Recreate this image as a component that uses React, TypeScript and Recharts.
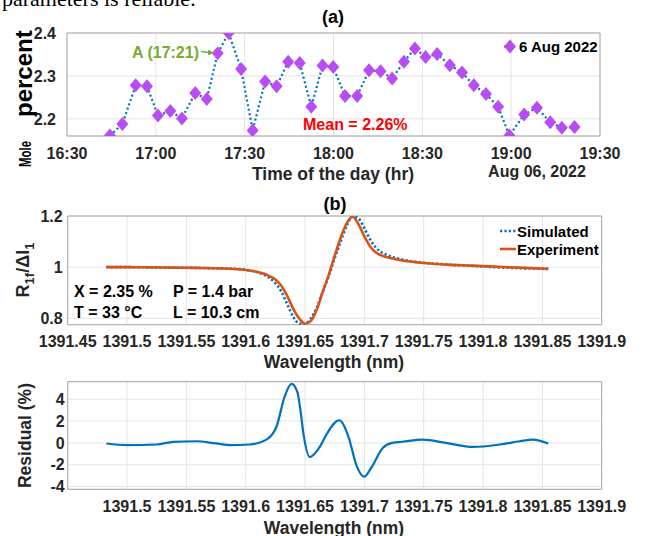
import React from 'react';
import { LineChart, Line, XAxis, YAxis, CartesianGrid, ReferenceArea } from 'recharts';

// ---------- Panel (a) data ----------
const sampleTimes = [
  '16:44:30', '16:48:42', '16:53:12', '16:57:00', '17:00:42', '17:04:54', '17:08:48', '17:13:18',
  '17:17:12', '17:20:54', '17:24:36', '17:28:48', '17:32:42', '17:36:54', '17:40:48', '17:44:42',
  '17:48:36', '17:52:30', '17:56:18', '17:59:54', '18:03:54', '18:08:00', '18:12:00', '18:15:54',
  '18:19:48', '18:23:48', '18:27:30', '18:31:06', '18:35:00', '18:39:18', '18:43:24', '18:47:24',
  '18:51:30', '18:55:36', '18:59:24', '19:04:24', '19:08:42', '19:13:12', '19:17:06', '19:21:24',
];
const molePercent = [
  2.161, 2.188, 2.278, 2.276, 2.208, 2.218, 2.201, 2.260,
  2.246, 2.353, 2.400, 2.316, 2.173, 2.287, 2.276, 2.333,
  2.330, 2.228, 2.324, 2.321, 2.253, 2.253, 2.313, 2.311,
  2.294, 2.333, 2.364, 2.344, 2.351, 2.325, 2.308, 2.278,
  2.258, 2.228, 2.161, 2.210, 2.226, 2.192, 2.179, 2.181,
];
const timeTickLabels = ['16:30', '17:00', '17:30', '18:00', '18:30', '19:00', '19:30'];
const moleTicks = [2.2, 2.3, 2.4];

// ---------- Panel (b) data ----------
const wavelengths = [
  1391.4826, 1391.50, 1391.52, 1391.54, 1391.56, 1391.58, 1391.59, 1391.60, 1391.61, 1391.615,
  1391.62, 1391.625, 1391.63, 1391.635, 1391.64, 1391.645, 1391.65, 1391.655, 1391.66, 1391.665,
  1391.67, 1391.675, 1391.68, 1391.685, 1391.69, 1391.695, 1391.70, 1391.705, 1391.71, 1391.72,
  1391.73, 1391.74, 1391.75, 1391.77, 1391.79, 1391.81, 1391.83, 1391.855,
];
const simulated = [
  1.000, 1.000, 0.999, 0.998, 0.997, 0.995, 0.994, 0.990, 0.980, 0.971,
  0.958, 0.937, 0.905, 0.855, 0.806, 0.780, 0.777, 0.800, 0.843, 0.905,
  0.965, 1.035, 1.100, 1.160, 1.198, 1.190, 1.152, 1.107, 1.075, 1.046,
  1.032, 1.023, 1.017, 1.010, 1.005, 1.000, 0.996, 0.993,
];
const experiment = [
  1.000, 1.000, 0.999, 0.998, 0.997, 0.995, 0.993, 0.989, 0.981, 0.975,
  0.965, 0.952, 0.927, 0.888, 0.838, 0.800, 0.779, 0.790, 0.835, 0.905,
  0.970, 1.045, 1.115, 1.170, 1.197, 1.168, 1.120, 1.080, 1.056, 1.038,
  1.028, 1.021, 1.016, 1.010, 1.006, 1.002, 0.998, 0.994,
];
const wavelengthTicks = [1391.45, 1391.5, 1391.55, 1391.6, 1391.65, 1391.7, 1391.75, 1391.8, 1391.85, 1391.9];
const ratioTicks = [0.8, 1, 1.2];

// ---------- Residual data ----------
const residualWavelengths = [
  1391.4826, 1391.50, 1391.525, 1391.539, 1391.5585, 1391.575, 1391.587, 1391.6035, 1391.6175, 1391.626,
  1391.633, 1391.6386, 1391.6437, 1391.6456, 1391.649, 1391.654, 1391.6625, 1391.668, 1391.6788, 1391.6865,
  1391.6935, 1391.6999, 1391.7057, 1391.7155, 1391.7236, 1391.732, 1391.749, 1391.7687, 1391.7917, 1391.814,
  1391.831, 1391.842, 1391.855,
];
const residualValues = [
  -0.06, -0.2, -0.15, 0.1, 0.15, -0.05, -0.2, -0.15, 0.3, 1.5,
  4.3, 5.4, 4.6, 3.4, 0.6, -1.3, -0.35, 0.76, 2.07, 0.6,
  -2.1, -3.1, -2.3, -0.46, 0.0, 0.1, 0.3, 0.0, -0.37, -0.15,
  0.15, 0.3, -0.06,
];
const residualTicks = [-4, -2, 0, 2, 4];
const residualXTicks = [1391.5, 1391.55, 1391.6, 1391.65, 1391.7, 1391.75, 1391.8, 1391.85, 1391.9];

// ---------- helpers ----------
const toMinutes = (s: string) => {
  const p = s.split(':').map(Number);
  return p[0] * 60 + p[1] + (p[2] || 0) / 60;
};
const fmtTime = (m: number) => {
  const h = Math.floor(m / 60);
  const mm = Math.round(m - h * 60);
  return `${h}:${mm < 10 ? '0' : ''}${mm}`;
};
const fmtNum = (v: number) => String(Number(v.toFixed(2)));

const moleData = sampleTimes.map((t, i) => ({ t: toMinutes(t), v: molePercent[i] }));
const timeTicks = timeTickLabels.map(toMinutes);
const spectrumData = wavelengths.map((w, i) => ({ w, sim: simulated[i], exp: experiment[i] }));
const residualData = residualWavelengths.map((w, i) => ({ w, r: residualValues[i] }));

const FONT = '"Liberation Sans", Arial, Helvetica, sans-serif';
const TXT = '#262626';
const GRID = '#e4e4e4';
const BOX = '#a8a8a8';
const BLUE = '#0072BD';
const ORANGE = '#D95319';
const PURPLE = '#B84CF5';
const tickStyle = { fill: TXT, fontSize: 16, fontWeight: 700, fontFamily: FONT };

const Diamond = (props: any) => {
  const { cx, cy, index } = props;
  if (cx == null || cy == null) return <g key={`d${index}`} />;
  return (
    <polygon
      key={`d${index}`}
      points={`${cx},${cy - 7} ${cx + 6},${cy} ${cx},${cy + 7} ${cx - 6},${cy}`}
      fill={PURPLE}
    />
  );
};

export default function App() {
  return (
    <div
      style={{
        position: 'fixed',
        left: 0,
        top: 0,
        width: 646,
        height: 536,
        background: '#fff',
        overflow: 'hidden',
        fontFamily: FONT,
      }}
    >
      {/* Panel (a) */}
      <div style={{ position: 'absolute', left: 0, top: 0 }}>
        <LineChart width={646} height={190} data={moleData} margin={{ top: 33, right: 46, bottom: 24, left: 7 }}>
          <CartesianGrid stroke={GRID} />
          <XAxis
            dataKey="t"
            type="number"
            domain={[timeTicks[0], timeTicks[timeTicks.length - 1]]}
            ticks={timeTicks}
            tickFormatter={fmtTime}
            axisLine={false}
            tickLine={false}
            tickSize={0}
            tickMargin={11.6}
            height={30}
            tick={tickStyle}
            interval={0}
          />
          <YAxis
            type="number"
            domain={[2.16, 2.4]}
            ticks={moleTicks}
            tickFormatter={(v: number) => v.toFixed(1)}
            allowDataOverflow
            axisLine={false}
            tickLine={false}
            tickSize={0}
            tickMargin={11}
            width={60}
            tick={tickStyle}
            interval={0}
          />
          <ReferenceArea
            x1={timeTicks[0]}
            x2={timeTicks[timeTicks.length - 1]}
            y1={2.16}
            y2={2.4}
            fill="none"
            fillOpacity={0}
            stroke={BOX}
            strokeWidth={1}
            ifOverflow="visible"
          />
          <Line
            dataKey="v"
            type="linear"
            stroke={BLUE}
            strokeWidth={2.2}
            strokeDasharray="2 2.6"
            dot={Diamond}
            activeDot={false}
            isAnimationActive={false}
          />
        </LineChart>
      </div>

      {/* Panel (b) */}
      <div style={{ position: 'absolute', left: 0, top: 190 }}>
        <LineChart width={646} height={170} data={spectrumData} margin={{ top: 26, right: 44.3, bottom: 5.3, left: 7.7 }}>
          <CartesianGrid stroke={GRID} />
          <XAxis
            dataKey="w"
            type="number"
            domain={[1391.45, 1391.9]}
            ticks={wavelengthTicks}
            tickFormatter={fmtNum}
            axisLine={false}
            tickLine={false}
            tickSize={0}
            tickMargin={10.9}
            height={30}
            tick={tickStyle}
            interval={0}
          />
          <YAxis
            type="number"
            domain={[0.775, 1.2]}
            ticks={ratioTicks}
            tickFormatter={fmtNum}
            allowDataOverflow
            axisLine={false}
            tickLine={false}
            tickSize={0}
            tickMargin={5}
            width={60}
            tick={tickStyle}
            interval={0}
          />
          <ReferenceArea
            x1={1391.45}
            x2={1391.9}
            y1={0.775}
            y2={1.2}
            fill="none"
            fillOpacity={0}
            stroke={BOX}
            strokeWidth={1}
            ifOverflow="visible"
          />
          <Line
            dataKey="sim"
            type="monotone"
            stroke={BLUE}
            strokeWidth={2.6}
            strokeDasharray="2.2 2.2"
            dot={false}
            activeDot={false}
            isAnimationActive={false}
          />
          <Line
            dataKey="exp"
            type="monotone"
            stroke={ORANGE}
            strokeWidth={2.6}
            dot={false}
            activeDot={false}
            isAnimationActive={false}
          />
        </LineChart>
      </div>

      {/* Residual */}
      <div style={{ position: 'absolute', left: 0, top: 370 }}>
        <LineChart width={646} height={166} data={residualData} margin={{ top: 11.7, right: 44.3, bottom: 16.7, left: 7.7 }}>
          <CartesianGrid stroke={GRID} />
          <XAxis
            dataKey="w"
            type="number"
            domain={[1391.45, 1391.9]}
            ticks={residualXTicks}
            tickFormatter={fmtNum}
            axisLine={false}
            tickLine={false}
            tickSize={0}
            tickMargin={11.3}
            height={30}
            tick={tickStyle}
            interval={0}
          />
          <YAxis
            type="number"
            domain={[-4.25, 5.6]}
            ticks={residualTicks}
            allowDataOverflow
            axisLine={false}
            tickLine={false}
            tickSize={0}
            tickMargin={3}
            width={60}
            tick={tickStyle}
            interval={0}
          />
          <ReferenceArea
            x1={1391.45}
            x2={1391.9}
            y1={-4.25}
            y2={5.6}
            fill="none"
            fillOpacity={0}
            stroke={BOX}
            strokeWidth={1}
            ifOverflow="visible"
          />
          <Line
            dataKey="r"
            type="monotone"
            stroke={BLUE}
            strokeWidth={2.2}
            dot={false}
            activeDot={false}
            isAnimationActive={false}
          />
        </LineChart>
      </div>

      {/* Text overlay */}
      <svg
        width={646}
        height={536}
        style={{ position: 'absolute', left: 0, top: 0, pointerEvents: 'none' }}
        fontFamily={FONT}
      >
        <defs>
          <marker id="arrowG" markerWidth="6" markerHeight="6" refX="5" refY="3" orient="auto" markerUnits="userSpaceOnUse">
            <path d="M0,0 L6,3 L0,6 Z" fill="#77AC30" />
          </marker>
        </defs>
        <text x={2} y={6} fontFamily='"Liberation Serif", "Times New Roman", serif' fontSize={22} fill="#000">
          parameters is reliable.
        </text>

        {/* Panel (a) texts */}
        <text x={333} y={23} textAnchor="middle" fontSize={18} fontWeight={700} fill="#000">(a)</text>
        <text transform="translate(31,167) rotate(-90)" fontSize={17} fontWeight={700} fill="#000" textLength={26} lengthAdjust="spacingAndGlyphs">Mole</text>
        <text transform="translate(32,117) rotate(-90)" fontSize={24} fontWeight={700} fill="#000">percent</text>
        <text x={333} y={180} textAnchor="middle" fontSize={17.5} fontWeight={700} fill={TXT}>Time of the day (hr)</text>
        <text x={537} y={177} textAnchor="middle" fontSize={16} fontWeight={700} fill={TXT}>Aug 06, 2022</text>
        <text x={132} y={58} fontSize={16} fontWeight={700} fill="#77AC30">A (17:21)</text>
        <line x1={201} y1={51.5} x2={213} y2={53} stroke="#77AC30" strokeWidth={1.5} markerEnd="url(#arrowG)" />
        <text x={303} y={130} fontSize={16} fontWeight={700} fill="#FF0000">Mean = 2.26%</text>
        <line x1={504} y1={46.5} x2={516} y2={46.5} stroke={BLUE} strokeWidth={2.2} strokeDasharray="2 2" />
        <polygon points="510,39.5 516,46.5 510,53.5 504,46.5" fill={PURPLE} />
        <text x={519} y={52} fontSize={15} fontWeight={700} fill="#000">6 Aug 2022</text>

        {/* Panel (b) texts */}
        <text x={335} y={210} textAnchor="middle" fontSize={18} fontWeight={700} fill="#000">(b)</text>
        <text transform="translate(29,270) rotate(-90)" textAnchor="middle" fontSize={18} fontWeight={700} fill={TXT}>
          R<tspan fontSize={13} dy={5}>1f</tspan>
          <tspan dy={-5}>/ΔI</tspan>
          <tspan fontSize={13} dy={5}>1</tspan>
        </text>
        <text x={74} y={297} fontSize={16} fontWeight={700} fill="#000">X = 2.35 %</text>
        <text x={173} y={297} fontSize={16} fontWeight={700} fill="#000">P = 1.4 bar</text>
        <text x={74} y={318} fontSize={16} fontWeight={700} fill="#000">T = 33 °C</text>
        <text x={173} y={318} fontSize={16} fontWeight={700} fill="#000">L = 10.3 cm</text>
        <text x={334} y={367.5} textAnchor="middle" fontSize={17.5} fontWeight={700} fill={TXT}>Wavelength (nm)</text>
        <line x1={500} y1={231} x2={516} y2={231} stroke={BLUE} strokeWidth={2.6} strokeDasharray="2.2 2.2" />
        <text x={517} y={236.5} fontSize={15} fontWeight={700} fill="#000">Simulated</text>
        <line x1={500} y1={249} x2={516} y2={249} stroke={ORANGE} strokeWidth={2.6} />
        <text x={517} y={254.5} fontSize={15} fontWeight={700} fill="#000">Experiment</text>

        {/* Residual texts */}
        <text transform="translate(31,435.5) rotate(-90)" textAnchor="middle" fontSize={17.5} fontWeight={700} fill={TXT}>Residual (%)</text>
        <text x={334} y={534} textAnchor="middle" fontSize={17.5} fontWeight={700} fill={TXT}>Wavelength (nm)</text>
      </svg>
    </div>
  );
}
